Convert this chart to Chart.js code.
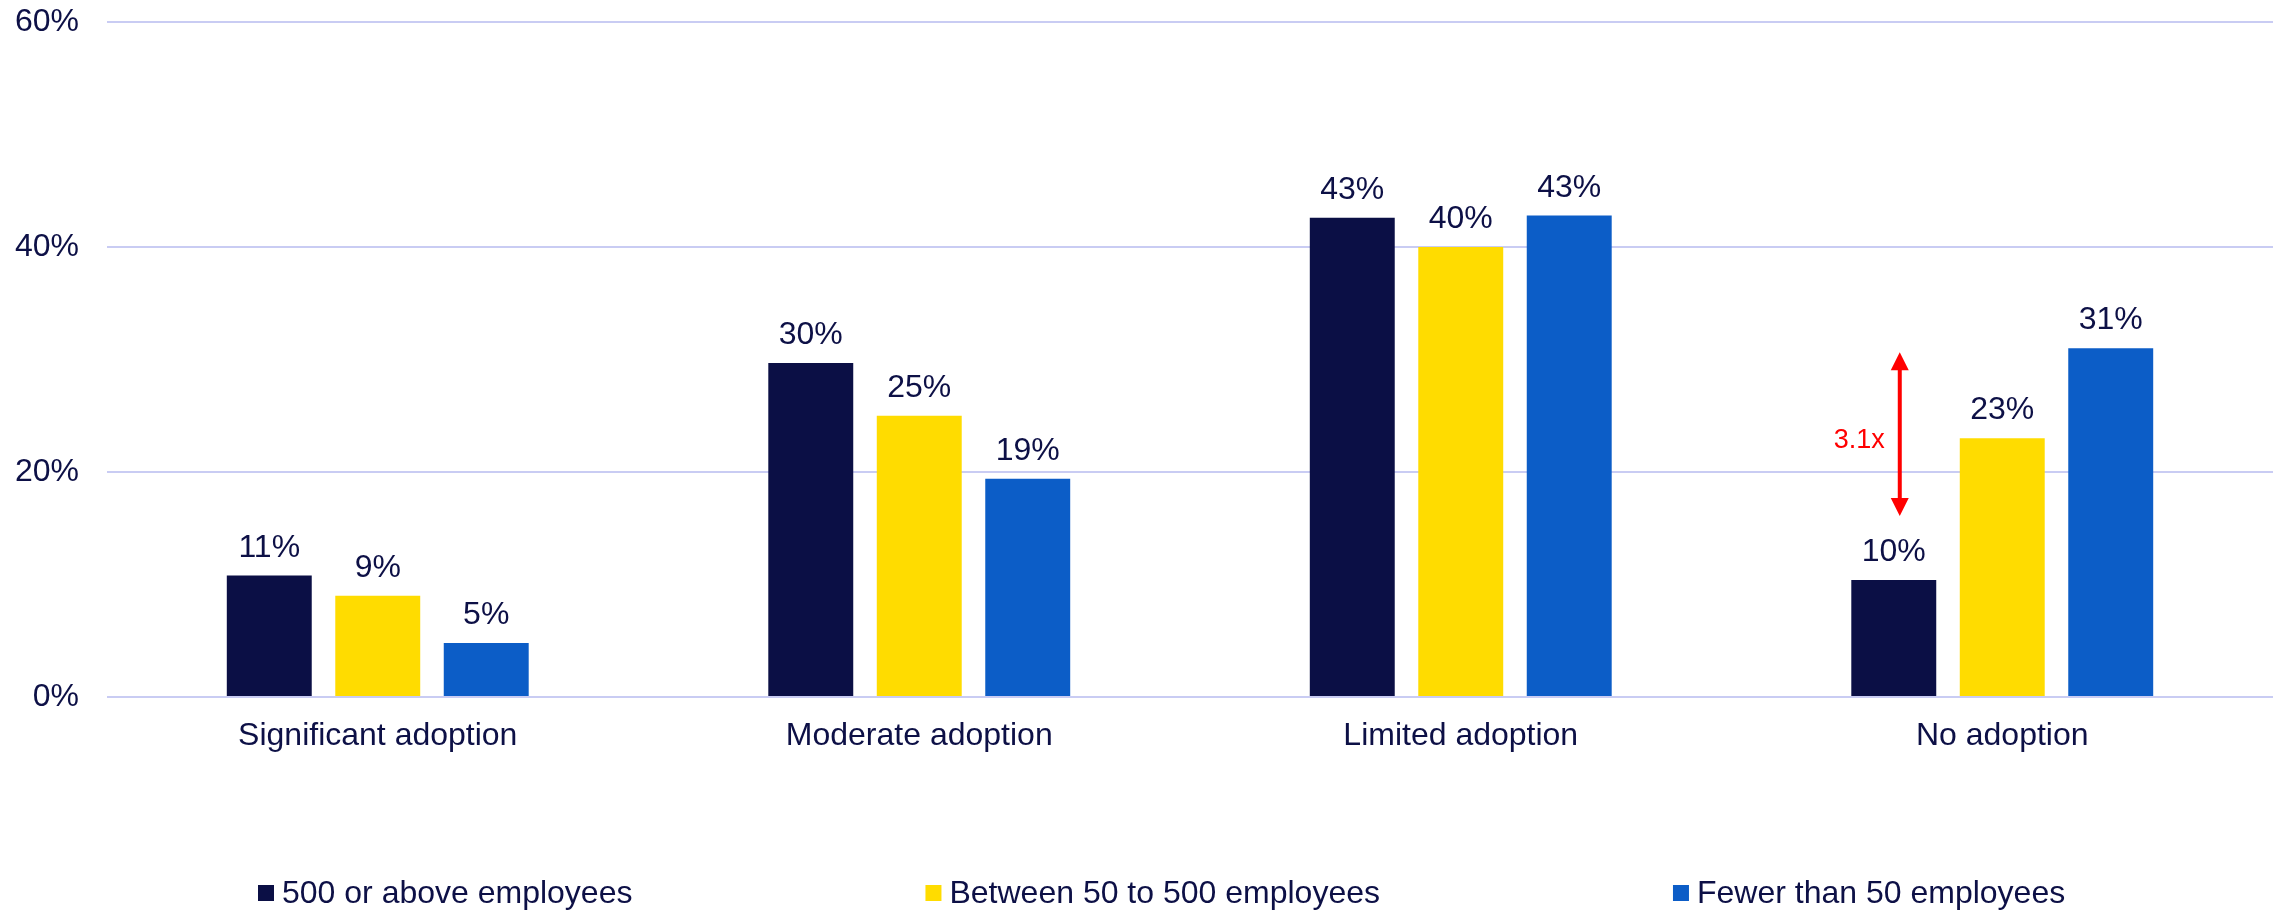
<!DOCTYPE html>
<html lang="en">
<head>
  <meta charset="UTF-8">
  <title>Adoption by company size</title>
  <script src="https://cdn.jsdelivr.net/npm/chart.js"></script>
  <style>
    html, body {
      margin: 0;
      padding: 0;
      background: #ffffff;
    }
    #wrap {
      width: 2277px;
      height: 912px;
      position: relative;
    }
  </style>
</head>
<body>
  <div id="wrap">
    <canvas id="adoptionChart" width="2277" height="912"></canvas>
  </div>

<script>
const categories = ['Significant adoption', 'Moderate adoption', 'Limited adoption', 'No adoption'];
const seriesNames = ['500 or above employees', 'Between 50 to 500 employees', 'Fewer than 50 employees'];
const largeFirms = [10.8, 29.7, 42.6, 10.4];
const midFirms = [9.0, 25.0, 40.0, 23.0];
const smallFirms = [4.8, 19.4, 42.8, 31.0];
const yTicks = [0, 20, 40, 60];
const gapLabel = '3.1x';

const seriesColors = ['#0b0f45', '#ffdc00', '#0c5dc7'];
const textColor = '#0d1046';
const fontFamily = 'Arial, "Liberation Sans", sans-serif';

// percentage labels above every bar
const valueLabels = {
  id: 'valueLabels',
  afterDatasetsDraw(chart) {
    const ctx = chart.ctx;
    ctx.save();
    ctx.font = '32px ' + fontFamily;
    ctx.fillStyle = textColor;
    ctx.textAlign = 'center';
    ctx.textBaseline = 'alphabetic';
    chart.data.datasets.forEach((ds, i) => {
      chart.getDatasetMeta(i).data.forEach((bar, j) => {
        ctx.fillText(Math.round(ds.data[j]) + '%', bar.x, bar.y - 19);
      });
    });
    ctx.restore();
  }
};

// red double arrow between the small and large firms in "No adoption"
const gapArrow = {
  id: 'gapArrow',
  afterDatasetsDraw(chart) {
    const ctx = chart.ctx;
    const last = categories.length - 1;
    const darkBar = chart.getDatasetMeta(0).data[last];
    const x = darkBar.x + 6;
    const yTop = chart.scales.y.getPixelForValue(smallFirms[last]) + 4;
    const yBottom = darkBar.y - 64;
    const head = 18;
    const half = 9;

    ctx.save();
    ctx.strokeStyle = '#ff0000';
    ctx.fillStyle = '#ff0000';
    ctx.lineWidth = 4;
    ctx.beginPath();
    ctx.moveTo(x, yTop + head - 2);
    ctx.lineTo(x, yBottom - head + 2);
    ctx.stroke();

    ctx.beginPath();
    ctx.moveTo(x, yTop);
    ctx.lineTo(x + half, yTop + head);
    ctx.lineTo(x - half, yTop + head);
    ctx.closePath();
    ctx.fill();

    ctx.beginPath();
    ctx.moveTo(x, yBottom);
    ctx.lineTo(x + half, yBottom - head);
    ctx.lineTo(x - half, yBottom - head);
    ctx.closePath();
    ctx.fill();

    ctx.font = '27px ' + fontFamily;
    ctx.textAlign = 'right';
    ctx.textBaseline = 'middle';
    ctx.fillText(gapLabel, x - 15, (yTop + yBottom) / 2 + 6);
    ctx.restore();
  }
};

// legend row along the bottom edge
const bottomLegend = {
  id: 'bottomLegend',
  afterDraw(chart) {
    const ctx = chart.ctx;
    const box = 16;
    const gap = 293;
    const yMid = 893;
    let x = 258;

    ctx.save();
    ctx.font = '32px ' + fontFamily;
    ctx.textAlign = 'left';
    ctx.textBaseline = 'alphabetic';
    chart.data.datasets.forEach(ds => {
      ctx.fillStyle = ds.backgroundColor;
      ctx.fillRect(x, yMid - box / 2, box, box);
      ctx.fillStyle = textColor;
      ctx.fillText(ds.label, x + box + 8, yMid + 10);
      x += box + 8 + ctx.measureText(ds.label).width + gap;
    });
    ctx.restore();
  }
};

const ctx = document.getElementById('adoptionChart').getContext('2d');
const chart = new Chart(ctx, {
  type: 'bar',
  data: {
    labels: categories,
    datasets: [
      { label: seriesNames[0], data: largeFirms, backgroundColor: seriesColors[0] },
      { label: seriesNames[1], data: midFirms, backgroundColor: seriesColors[1] },
      { label: seriesNames[2], data: smallFirms, backgroundColor: seriesColors[2] }
    ]
  },
  options: {
    responsive: false,
    animation: false,
    devicePixelRatio: 1,
    categoryPercentage: 0.601,
    barPercentage: 0.783,
    layout: {
      padding: { top: 22, right: 4, left: 0, bottom: 0 }
    },
    plugins: {
      legend: { display: false },
      tooltip: { enabled: false }
    },
    scales: {
      x: {
        grid: { display: false, drawTicks: false },
        border: { display: false },
        ticks: {
          color: textColor,
          font: { family: fontFamily, size: 32 },
          padding: 20,
          maxRotation: 0
        },
        afterFit(axis) {
          axis.height = 215;
          axis.paddingLeft = 0;
          axis.paddingRight = 0;
        }
      },
      y: {
        min: 0,
        max: 60,
        afterBuildTicks(axis) { axis.ticks = yTicks.map(v => ({ value: v })); },
        grid: { color: '#c9ccf3', lineWidth: 2, drawTicks: false },
        border: { display: false },
        ticks: {
          color: textColor,
          font: { family: fontFamily, size: 32 },
          padding: 28,
          callback: v => v + '%'
        },
        afterFit(axis) {
          axis.width = 107;
          axis.paddingTop = 0;
          axis.paddingBottom = 0;
        }
      }
    }
  },
  plugins: [valueLabels, gapArrow, bottomLegend]
});
</script>
</body>
</html>
